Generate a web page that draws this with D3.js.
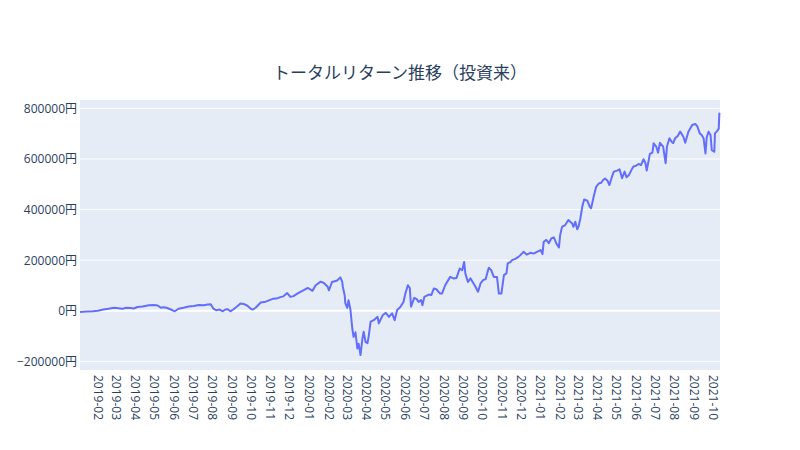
<!DOCTYPE html>
<html><head><meta charset="utf-8">
<script src="https://cdn.jsdelivr.net/npm/d3@7"></script>
<style>
body{margin:0;background:#fff;}
text{font-family:"Open Sans","Noto Sans CJK JP",verdana,arial,sans-serif;}
</style></head>
<body><svg id="c" width="800" height="450"></svg>
<script>
const chartTitle = "トータルリターン推移（投資来）";
const dates = ["2019-01-04","2019-01-14","2019-01-24","2019-02-01","2019-02-10","2019-02-18","2019-02-27","2019-03-06","2019-03-12","2019-03-19","2019-03-25","2019-03-30","2019-04-05","2019-04-13","2019-04-23","2019-05-01","2019-05-07","2019-05-12","2019-05-16","2019-05-21","2019-05-27","2019-06-03","2019-06-09","2019-06-17","2019-06-25","2019-07-03","2019-07-11","2019-07-19","2019-07-25","2019-07-30","2019-08-03","2019-08-08","2019-08-13","2019-08-18","2019-08-22","2019-08-26","2019-08-30","2019-09-04","2019-09-10","2019-09-15","2019-09-20","2019-09-26","2019-10-01","2019-10-04","2019-10-09","2019-10-17","2019-10-25","2019-11-02","2019-11-06","2019-11-13","2019-11-17","2019-11-22","2019-11-28","2019-12-03","2019-12-08","2019-12-14","2019-12-19","2019-12-27","2019-12-31","2020-01-07","2020-01-12","2020-01-20","2020-01-25","2020-01-31","2020-02-02","2020-02-07","2020-02-15","2020-02-20","2020-02-23","2020-02-24","2020-02-27","2020-02-28","2020-03-02","2020-03-04","2020-03-07","2020-03-10","2020-03-12","2020-03-15","2020-03-18","2020-03-20","2020-03-23","2020-03-26","2020-03-28","2020-03-31","2020-04-03","2020-04-05","2020-04-08","2020-04-13","2020-04-19","2020-04-21","2020-04-27","2020-05-02","2020-05-07","2020-05-12","2020-05-16","2020-05-20","2020-05-25","2020-05-30","2020-06-02","2020-06-06","2020-06-09","2020-06-11","2020-06-16","2020-06-20","2020-06-23","2020-06-27","2020-06-29","2020-07-02","2020-07-09","2020-07-13","2020-07-17","2020-07-21","2020-07-27","2020-07-30","2020-08-04","2020-08-12","2020-08-17","2020-08-22","2020-08-27","2020-08-31","2020-09-03","2020-09-05","2020-09-09","2020-09-13","2020-09-17","2020-09-21","2020-09-25","2020-09-29","2020-10-03","2020-10-07","2020-10-12","2020-10-16","2020-10-20","2020-10-25","2020-10-28","2020-11-01","2020-11-05","2020-11-09","2020-11-11","2020-11-15","2020-11-18","2020-11-23","2020-11-28","2020-12-01","2020-12-06","2020-12-11","2020-12-17","2020-12-22","2020-12-28","2021-01-02","2021-01-05","2021-01-07","2021-01-11","2021-01-15","2021-01-19","2021-01-23","2021-01-27","2021-01-31","2021-02-02","2021-02-05","2021-02-10","2021-02-15","2021-02-21","2021-02-23","2021-02-26","2021-03-01","2021-03-03","2021-03-06","2021-03-09","2021-03-12","2021-03-17","2021-03-21","2021-03-23","2021-03-27","2021-03-31","2021-04-04","2021-04-08","2021-04-11","2021-04-14","2021-04-18","2021-04-21","2021-04-25","2021-04-28","2021-05-03","2021-05-07","2021-05-11","2021-05-15","2021-05-18","2021-05-22","2021-05-26","2021-05-29","2021-06-01","2021-06-06","2021-06-10","2021-06-14","2021-06-17","2021-06-19","2021-06-24","2021-06-28","2021-06-30","2021-07-04","2021-07-07","2021-07-10","2021-07-15","2021-07-19","2021-07-21","2021-07-25","2021-07-29","2021-07-31","2021-08-03","2021-08-07","2021-08-11","2021-08-16","2021-08-19","2021-08-24","2021-08-30","2021-09-04","2021-09-07","2021-09-11","2021-09-14","2021-09-17","2021-09-20","2021-09-22","2021-09-25","2021-09-28","2021-09-30","2021-10-04","2021-10-05","2021-10-09","2021-10-11","2021-10-12","2021-10-13"];
const totalReturn = [-5000,-3000,-2000,0,5000,8000,12000,10000,8000,12000,11000,9000,15000,17000,22000,23000,21000,12000,14000,12000,6000,-2000,8000,12000,17000,19000,23000,22000,25000,26000,9000,2000,5000,-2000,5000,6000,-2000,6000,18000,29000,27000,20000,9000,5000,12000,33000,36000,44000,48000,50000,54000,57000,70000,55000,58000,68000,75000,86000,90000,79000,101000,115000,110000,95000,81000,114000,120000,132000,115000,95000,60000,29000,12000,42000,5000,-70000,-103000,-85000,-149000,-130000,-175000,-110000,-83000,-124000,-128000,-100000,-43000,-37000,-24000,-50000,-18000,-8000,-24000,-10000,-37000,3000,15000,35000,68000,101000,90000,16000,51000,46000,35000,42000,22000,55000,64000,62000,88000,85000,68000,68000,101000,134000,128000,130000,167000,160000,193000,147000,114000,128000,112000,95000,75000,108000,121000,125000,170000,160000,134000,134000,68000,68000,141000,148000,187000,192000,200000,205000,213000,220000,233000,222000,229000,226000,234000,240000,224000,273000,280000,267000,286000,290000,266000,250000,299000,332000,339000,359000,345000,332000,352000,322000,332000,365000,411000,440000,435000,411000,405000,451000,490000,503000,506000,517000,523000,514000,497000,530000,550000,554000,559000,524000,550000,528000,537000,557000,570000,572000,580000,576000,599000,583000,554000,620000,625000,662000,649000,625000,664000,649000,583000,649000,682000,666000,663000,682000,691000,708000,688000,664000,708000,734000,738000,730000,701000,695000,682000,622000,686000,708000,695000,635000,629000,701000,712000,720000,780000,778000];
const yTicks = [-200000,0,200000,400000,600000,800000];
const yDomain = [-234000, 833000];

const svg = d3.select("#c");
const m = {l:80, r:80, t:100, b:80};
const W = 800, H = 450;
const parse = d3.timeParse("%Y-%m-%d");
const data = dates.map((d,i)=>({d:parse(d), v: totalReturn[i]}));

const x = d3.scaleTime().domain(d3.extent(data, d=>d.d)).range([m.l, W-m.r]);
const y = d3.scaleLinear().domain(yDomain).range([H-m.b, m.t]);

svg.append("rect").attr("x",m.l).attr("y",m.t).attr("width",W-m.l-m.r).attr("height",H-m.t-m.b).attr("fill","#e5ecf6");

// grid
svg.append("g").selectAll("line").data(yTicks).join("line")
  .attr("x1",m.l).attr("x2",W-m.r)
  .attr("y1",d=>y(d)).attr("y2",d=>y(d))
  .attr("stroke","#fff").attr("stroke-width",d=>d===0?2:1);

// y labels
const yAxis = d3.axisLeft(y).tickValues(yTicks).tickSize(0).tickPadding(3)
  .tickFormat(d=>(d<0?"\u2212"+Math.abs(d):d)+"円");
const gy = svg.append("g").attr("transform",`translate(${m.l},0)`).call(yAxis);
gy.select(".domain").remove();
gy.selectAll("text").attr("fill","#2a3f5f").style("font-size","12px");

// x labels
const xTicks = d3.timeMonth.range(d3.timeMonth.ceil(x.domain()[0]), x.domain()[1]);
const xAxis = d3.axisBottom(x).tickValues(xTicks).tickSize(0).tickFormat(d3.timeFormat("%Y-%m"));
const gx = svg.append("g").attr("transform",`translate(0,${H-m.b})`).call(xAxis);
gx.select(".domain").remove();
gx.selectAll("text").attr("fill","#2a3f5f").style("font-size","12px")
  .attr("transform","rotate(90)").attr("x",5).attr("y",0).attr("dy","0.35em")
  .attr("text-anchor","start");

// line
const line = d3.line().x(d=>x(d.d)).y(d=>y(d.v));
svg.append("path").datum(data).attr("d",line).attr("fill","none")
  .attr("stroke","#636efa").attr("stroke-width",2).attr("stroke-linejoin","round");

svg.append("text").attr("x",W/2).attr("y",79).attr("text-anchor","middle")
  .attr("fill","#2a3f5f").style("font-size","17px").text(chartTitle);
</script></body></html>
